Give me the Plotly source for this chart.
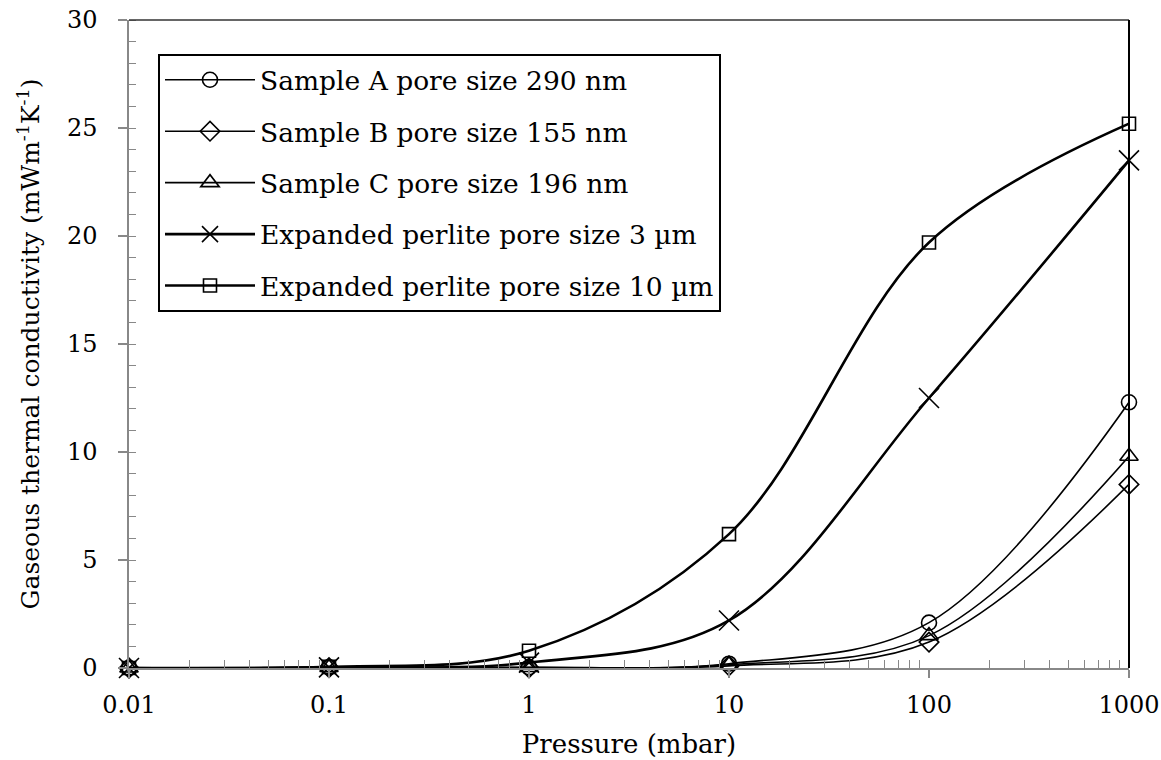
import plotly.graph_objects as go

pressure = [0.01, 0.1, 1, 10, 100, 1000]
sample_a = [0.0, 0.03, 0.03, 0.2, 2.1, 12.3]
sample_b = [0.0, 0.02, 0.01, 0.1, 1.2, 8.5]
sample_c = [0.0, 0.02, 0.02, 0.15, 1.5, 9.8]
perlite_3 = [0.0, 0.03, 0.25, 2.2, 12.5, 23.5]
perlite_10 = [0.0, 0.05, 0.8, 6.2, 19.7, 25.2]

names = [
    "Sample A pore size 290 nm",
    "Sample B pore size 155 nm",
    "Sample C pore size 196 nm",
    "Expanded perlite pore size 3 µm",
    "Expanded perlite pore size 10 µm",
]
series = [sample_a, sample_b, sample_c, perlite_3, perlite_10]
symbols = ["circle-open", "diamond-open", "triangle-up-open", "x-thin-open", "square-open"]
msizes = [15, 15, 16, 20, 13]
lwidths = [1.6, 1.6, 1.6, 2.6, 2.6]

x_ticks = [0.01, 0.1, 1, 10, 100, 1000]
x_ticktext = ["0.01", "0.1", "1", "10", "100", "1000"]
minor_vals = [m * 10 ** e for e in range(-2, 3) for m in range(2, 10)]

FONT = "DejaVu Serif"

fig = go.Figure()
for i, (nm, ys) in enumerate(zip(names, series)):
    fig.add_trace(go.Scatter(
        x=pressure, y=ys, name=nm, mode="lines+markers",
        line=dict(color="black", width=lwidths[i], shape="spline", smoothing=1.0),
        marker=dict(symbol=symbols[i], size=msizes[i], color="black",
                    line=dict(color="black", width=1.6)),
        cliponaxis=False, legendgroup=str(i),
    ))

fig.update_layout(
    width=1161, height=760,
    margin=dict(l=129, r=32, t=20, b=92, autoexpand=False),
    paper_bgcolor="white", plot_bgcolor="white",
    font=dict(family=FONT, size=24, color="black"),
    showlegend=True,
    legend=dict(
        x=0.029, y=0.9475, xanchor="left", yanchor="top",
        bordercolor="black", borderwidth=2, bgcolor="white",
        font=dict(family=FONT, size=26.5, color="black"),
        tracegroupgap=14, itemwidth=90,
    ),
    xaxis=dict(
        type="log", range=[-2, 3], automargin=False,
        tickmode="array", tickvals=x_ticks, ticktext=x_ticktext,
        ticks="outside", ticklen=8, tickcolor="#888", tickwidth=1.5,
        showline=True, linecolor="#888", linewidth=1.5,
        showgrid=False, zeroline=False,
        minor=dict(tickmode="array", tickvals=minor_vals, ticks="inside",
                   ticklen=8, tickcolor="#888", tickwidth=1, showgrid=False),
        tickfont=dict(family=FONT, size=24),
        ticklabelstandoff=6,
        title=dict(text="Pressure (mbar)", font=dict(family=FONT, size=26), standoff=17),
    ),
    yaxis=dict(
        range=[0, 30], automargin=False,
        tickmode="array", tickvals=[0, 5, 10, 15, 20, 25, 30],
        ticks="outside", ticklen=9, tickcolor="#888", tickwidth=1.5,
        showline=True, linecolor="#888", linewidth=1.5,
        showgrid=False, zeroline=False,
        minor=dict(dtick=1, ticks="inside", ticklen=7, tickcolor="#888",
                   tickwidth=1, showgrid=False),
        tickfont=dict(family=FONT, size=24),
        ticklabelstandoff=16,
        title=dict(text="Gaseous thermal conductivity (mWm<sup>-1</sup>K<sup>-1</sup>)",
                   font=dict(family=FONT, size=25), standoff=20),
    ),
    shapes=[
        dict(type="line", xref="paper", yref="paper", x0=0, x1=1, y0=1, y1=1,
             line=dict(color="#333", width=1.5)),
        dict(type="line", xref="paper", yref="paper", x0=1, x1=1, y0=0, y1=1,
             line=dict(color="black", width=2)),
    ],
)

fig.write_html("out.html")
